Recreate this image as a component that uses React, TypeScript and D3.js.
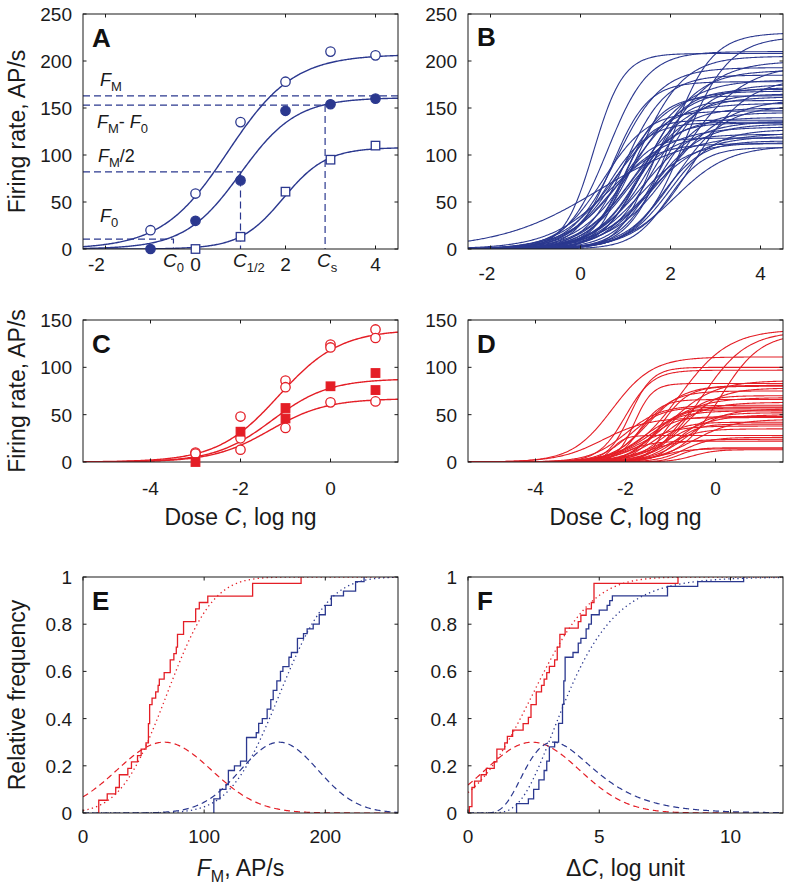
import React from "react";
import * as d3 from "d3";

const BLUE = "#2b388f";
const RED = "#e41e26";
const FONT = "'Liberation Sans', Arial, Helvetica, sans-serif";

// ---------- Panel A : example neuron data + fitted curves ----------
const aDoseCircle = [-1, 0, 1, 2, 3, 4];
const aOpen = [20, 59, 135, 178, 210, 206];
const aFilled = [0, 30, 73, 147, 154, 160];
const aDoseSquare = [0, 1, 2, 3, 4];
const aSquare = [0, 13, 61, 95, 110];
const aFitFmax = [207, 161, 108];
const aFitC50 = [0.72, 1.0, 1.95];
const aFitWidth = [0.73, 0.62, 0.48];
// reference levels: F_M, F_M - F_0, F_M/2, F_0 ; doses: C_0, C_1/2, C_s
const aLevels = [163, 153, 82, 10.6];
const aDoses = [-0.49, 1.0, 2.88];

// ---------- Panel B : fitted curves of the population (blue) ----------
const bFmax = [230, 226, 210, 208, 205, 200, 197, 193, 190, 185, 182, 180, 178, 175, 172, 170, 168, 165, 163, 162, 160, 158, 155, 152, 150, 147, 145, 140, 137, 136, 135, 134, 133, 130, 127, 125, 122, 120, 118, 115, 113, 112, 110, 108];
const bC50 = [2.0, 2.3, 0.6, 0.29, 1.3, 1.7, 2.2, 0.8, 1.5, 1.0, 2.5, 1.2, 0.7, 1.8, 1.1, 1.4, 0.9, 1.6, 1.0, 1.25, 1.9, 1.5, 0.8, 2.1, 1.3, 0.5, 1.7, 1.1, 0.9, 1.4, 0.6, 1.2, 1.6, 0.7, 2.0, 0.4, 1.0, 1.5, 0.8, 1.8, 1.3, 0.6, 2.1, 1.95];
const bWidth = [0.45, 0.5, 0.45, 0.33, 0.5, 0.6, 0.7, 0.5, 0.55, 0.45, 0.6, 0.6, 0.4, 0.5, 0.65, 0.45, 0.55, 0.5, 0.4, 0.6, 0.7, 0.35, 0.6, 0.55, 0.5, 0.5, 0.45, 0.55, 0.3, 0.6, 0.45, 0.4, 0.55, 0.7, 0.5, 1.1, 0.5, 0.6, 0.35, 0.45, 0.55, 0.5, 0.6, 0.4];

// ---------- Panel C : example neuron data (red) ----------
const cOpenDose = [-3, -3, -2, -2, -2, -1, -1, -1, 0, 0, 0, 1, 1, 1];
const cOpen = [10, 9, 48, 25, 13, 86, 79, 36, 124, 121, 63, 140, 131, 64];
const cSquareDose = [-3, -2, -1, -1, 0, 1, 1];
const cSquare = [0, 32, 57, 46, 80, 94, 76];
const cFitFmax = [140, 88, 67];
const cFitC50 = [-1.15, -1.3, -1.35];
const cFitWidth = [0.68, 0.63, 0.63];

// ---------- Panel D : fitted curves of the population (red) ----------
const dFmax = [140, 138, 136, 111, 100, 97, 86, 83, 81, 80, 78, 75, 70, 68, 66, 63, 58, 57, 56, 55, 54, 52, 50, 48, 45, 42, 40, 38, 35, 28, 26, 24, 22, 15, 14, 13, 60, 47];
const dC50 = [-0.8, -0.3, 0.1, -2.3, -1.9, -2.0, -1.0, -1.8, -1.5, -1.2, -0.7, -1.6, -0.9, -1.3, -1.7, -1.1, -1.9, -1.4, -0.6, -1.2, -1.6, -0.8, -1.0, -1.5, -0.5, -1.3, -0.9, -1.7, -1.1, -2.3, -0.7, -1.5, -2.0, -0.8, -1.2, -0.5, -2.0, -2.5];
const dWidth = [0.55, 0.5, 0.45, 0.45, 0.25, 0.3, 0.5, 0.2, 0.4, 0.3, 0.4, 0.35, 0.3, 0.5, 0.25, 0.45, 0.35, 0.3, 0.4, 0.2, 0.4, 0.35, 0.5, 0.3, 0.45, 0.3, 0.25, 0.4, 0.35, 0.15, 0.3, 0.4, 0.3, 0.2, 0.3, 0.25, 0.4, 0.5];

// ---------- Panel E : F_M distributions ----------
const eRed = [13, 13, 20, 27, 30, 30, 37, 40, 45, 48, 52, 54, 54, 54, 55, 55, 55, 57, 60, 62, 63, 67, 72, 72, 75, 77, 78, 78, 83, 83, 93, 93, 96, 103, 140, 140, 180];
const eBlue = [108, 108, 108, 113, 113, 118, 120, 120, 120, 125, 130, 135, 135, 135, 135, 135, 143, 145, 145, 148, 152, 152, 155, 155, 157, 157, 160, 160, 163, 163, 165, 170, 170, 172, 177, 177, 177, 182, 185, 190, 195, 195, 200, 200, 205, 205, 215, 225, 225, 232];
const eGaussMean = [67, 162]; // dashed density curves
const eGaussSd = [39, 32];
const eCdfMean = [69, 162]; // dotted cumulative curves
const eCdfSd = [30, 32];

// ---------- Panel F : ΔC distributions ----------
const fRed = [0.05, 0.15, 0.15, 0.15, 0.25, 0.5, 0.7, 1.0, 1.1, 1.1, 1.4, 1.5, 1.7, 2.1, 2.3, 2.4, 2.4, 2.6, 2.6, 2.8, 2.9, 3.0, 3.1, 3.3, 3.4, 3.4, 3.5, 3.5, 3.7, 4.2, 4.3, 4.5, 4.7, 4.8, 4.8, 4.8, 8.0];
const fBlue = [1.85, 1.85, 2.3, 2.5, 2.5, 2.7, 2.7, 2.9, 2.9, 3.0, 3.0, 3.1, 3.1, 3.1, 3.3, 3.45, 3.45, 3.45, 3.45, 3.6, 3.6, 3.6, 3.6, 3.65, 3.65, 3.65, 3.65, 3.65, 3.7, 3.7, 3.7, 3.7, 3.7, 4.0, 4.2, 4.2, 4.3, 4.5, 4.5, 4.6, 4.7, 4.7, 5.0, 5.3, 5.4, 5.5, 7.6, 7.6, 8.75, 10.5];
const fRedNormal = [2.45, 1.8]; // mean, sd
const fBlueLogNormal = [1.335, 0.4]; // mu, sigma of ln(ΔC)

const PEAK = 0.3;

// ---------- tick values ----------
const abXTicks = [-2, 0, 2, 4];
const abYTicks = [0, 50, 100, 150, 200, 250];
const cdXTicks = [-4, -2, 0];
const cdYTicks = [0, 50, 100, 150];
const eXTicks = [0, 100, 200];
const fXTicks = [0, 5, 10];
const efYTicks = [0, 0.2, 0.4, 0.6, 0.8, 1];

// ---------- helpers ----------
function hill(x: number, fm: number, c: number, w: number) {
  return fm / (1 + Math.exp(-(x - c) / w));
}
function normCdf(z: number) {
  const t = 1 / (1 + (0.3275911 * Math.abs(z)) / Math.SQRT2);
  const e = 1 - ((((1.061405429 * t - 1.453152027) * t + 1.421413741) * t - 0.284496736) * t + 0.254829592) * t * Math.exp((-z * z) / 2);
  return z >= 0 ? (1 + e) / 2 : (1 - e) / 2;
}
function grid(d: number[], n = 300) {
  return d3.range(n + 1).map((i) => d[0] + ((d[1] - d[0]) * i) / n);
}
function ecdf(vals: number[]): [number, number][] {
  const s = [...vals].sort((a, b) => a - b);
  const n = s.length;
  const pts: [number, number][] = [[s[0], 0]];
  s.forEach((v, i) => pts.push([v, (i + 1) / n]));
  return pts;
}

type Geo = { x0: number; x1: number; y0: number; y1: number };
const GA: Geo = { x0: 83, x1: 398, y0: 14, y1: 249 };
const GB: Geo = { x0: 468, x1: 783, y0: 14, y1: 249 };
const GC: Geo = { x0: 83, x1: 398, y0: 320, y1: 462 };
const GD: Geo = { x0: 468, x1: 783, y0: 320, y1: 462 };
const GE: Geo = { x0: 83, x1: 398, y0: 577, y1: 813 };
const GF: Geo = { x0: 468, x1: 783, y0: 577, y1: 813 };

function Frame(props: {
  id: string;
  g: Geo;
  xs: any;
  ys: any;
  xTicks: number[];
  yTicks: number[];
  xLabY: number;
  negShift: number;
  letter: string;
  letterY: number;
  yFmt?: (v: number) => string;
  children?: any;
  overlay?: any;
}) {
  const { id, g, xs, ys, xTicks, yTicks, xLabY, letter, letterY, negShift } = props;
  const yFmt = props.yFmt || ((v: number) => String(v));
  const tl = 3.5;
  return (
    <g>
      <defs>
        <clipPath id={id}>
          <rect x={g.x0} y={g.y0} width={g.x1 - g.x0} height={g.y1 - g.y0} />
        </clipPath>
      </defs>
      <g clipPath={`url(#${id})`}>{props.children}</g>
      <rect x={g.x0} y={g.y0} width={g.x1 - g.x0} height={g.y1 - g.y0} fill="none" stroke="#1a1a1a" strokeWidth={1} />
      {xTicks.map((t) => (
        <g key={"xt" + t}>
          <line x1={xs(t)} x2={xs(t)} y1={g.y1} y2={g.y1 - tl} stroke="#1a1a1a" strokeWidth={1} />
          <line x1={xs(t)} x2={xs(t)} y1={g.y0} y2={g.y0 + tl} stroke="#1a1a1a" strokeWidth={1} />
          <text x={xs(t) + (t < 0 ? negShift : 0)} y={xLabY} textAnchor="middle" fontSize={19} fontFamily={FONT} fill="#1a1a1a">
            {t < 0 ? "-" + Math.abs(t) : String(t)}
          </text>
        </g>
      ))}
      {yTicks.map((t) => (
        <g key={"yt" + t}>
          <line x1={g.x0} x2={g.x0 + tl} y1={ys(t)} y2={ys(t)} stroke="#1a1a1a" strokeWidth={1} />
          <line x1={g.x1} x2={g.x1 - tl} y1={ys(t)} y2={ys(t)} stroke="#1a1a1a" strokeWidth={1} />
          <text x={g.x0 - 11} y={ys(t) + 7} textAnchor="end" fontSize={19} fontFamily={FONT} fill="#1a1a1a">
            {yFmt(t)}
          </text>
        </g>
      ))}
      <text x={g.x0 + 9} y={letterY} fontSize={26} fontWeight="bold" fontFamily={FONT} fill="#111">
        {letter}
      </text>
      {props.overlay}
    </g>
  );
}

function Circle({ x, y, filled, color }: any) {
  return <circle cx={x} cy={y} r={4.7} fill={filled ? color : "white"} stroke={color} strokeWidth={1.3} />;
}
function Square({ x, y, filled, color }: any) {
  const s = 8.5;
  return <rect x={x - s / 2} y={y - s / 2} width={s} height={s} fill={filled ? color : "white"} stroke={color} strokeWidth={1.3} />;
}

export default function App() {
  // scales
  const xA = d3.scaleLinear().domain([-2.5, 4.5]).range([GA.x0, GA.x1]);
  const yA = d3.scaleLinear().domain([0, 250]).range([GA.y1, GA.y0]);
  const xB = d3.scaleLinear().domain([-2.5, 4.5]).range([GB.x0, GB.x1]);
  const yB = d3.scaleLinear().domain([0, 250]).range([GB.y1, GB.y0]);
  const xC = d3.scaleLinear().domain([-5.5, 1.5]).range([GC.x0, GC.x1]);
  const yC = d3.scaleLinear().domain([0, 150]).range([GC.y1, GC.y0]);
  const xD = d3.scaleLinear().domain([-5.5, 1.5]).range([GD.x0, GD.x1]);
  const yD = d3.scaleLinear().domain([0, 150]).range([GD.y1, GD.y0]);
  const xE = d3.scaleLinear().domain([0, 260]).range([GE.x0, GE.x1]);
  const yE = d3.scaleLinear().domain([0, 1]).range([GE.y1, GE.y0]);
  const xF = d3.scaleLinear().domain([0, 12]).range([GF.x0, GF.x1]);
  const yF = d3.scaleLinear().domain([0, 1]).range([GF.y1, GF.y0]);

  const mkLine = (xs: any, ys: any) => d3.line<[number, number]>().x((d) => xs(d[0])).y((d) => ys(d[1]));
  const mkStep = (xs: any, ys: any) =>
    d3.line<[number, number]>().x((d) => xs(d[0])).y((d) => ys(d[1])).curve(d3.curveStepAfter);

  const gAB = grid([-2.6, 4.6]);
  const gCD = grid([-5.6, 1.6]);
  const lineA = mkLine(xA, yA);
  const lineB = mkLine(xB, yB);
  const lineC = mkLine(xC, yC);
  const lineD = mkLine(xD, yD);
  const lineE = mkLine(xE, yE);
  const lineF = mkLine(xF, yF);

  const fitCurve = (gx: number[], fm: number, c: number, w: number): [number, number][] =>
    gx.map((x) => [x, hill(x, fm, c, w)]);

  const dash = "7,4";
  const [FM, FMF0, FM2, F0] = aLevels;
  const [C0, C12, CS] = aDoses;

  // E / F fits
  const gE = grid([0, 260]);
  const gF = grid([0, 12], 400);
  const gauss = (x: number, m: number, s: number) => PEAK * Math.exp(-((x - m) ** 2) / (2 * s * s));
  const [lm, ls] = fBlueLogNormal;
  const lnPdf = (x: number) => (x <= 0 ? 0 : Math.exp(-((Math.log(x) - lm) ** 2) / (2 * ls * ls)) / x);
  const lnMode = Math.exp(lm - ls * ls);
  const lnPdfScaled = (x: number) => (PEAK * lnPdf(x)) / lnPdf(lnMode);
  const lnCdf = (x: number) => (x <= 0 ? 0 : normCdf((Math.log(x) - lm) / ls));

  const sub = (t: string, size = 13) => (
    <tspan fontSize={size} dy={5}>
      {t}
    </tspan>
  );

  return (
    <div style={{ position: "absolute", left: 0, top: 0 }}>
      <svg width={790} height={893} viewBox="0 0 790 893" style={{ display: "block", background: "white" }}>
        <rect x={0} y={0} width={790} height={893} fill="white" />

        {/* ---------- Panel A ---------- */}
        <Frame
          id="clipA"
          g={GA}
          xs={xA}
          ys={yA}
          xTicks={abXTicks}
          yTicks={abYTicks}
          xLabY={271}
          negShift={-9}
          letter="A"
          letterY={47}
          overlay={
            <g>
              {aDoseCircle.map((d, i) => (
                <Circle key={"ao" + i} x={xA(d)} y={yA(aOpen[i])} color={BLUE} />
              ))}
              {aDoseCircle.map((d, i) => (
                <Circle key={"af" + i} x={xA(d)} y={yA(aFilled[i])} color={BLUE} filled />
              ))}
              {aDoseSquare.map((d, i) => (
                <Square key={"as" + i} x={xA(d)} y={yA(aSquare[i])} color={BLUE} />
              ))}
            </g>
          }
        >
          {aFitFmax.map((fm, i) => (
            <path key={"af" + i} d={lineA(fitCurve(gAB, fm, aFitC50[i], aFitWidth[i])) || ""} fill="none" stroke={BLUE} strokeWidth={1.4} />
          ))}
          <g fill="none" stroke={BLUE} strokeWidth={1.2} strokeDasharray={dash}>
            <path d={lineA([[-2.5, FM], [4.5, FM]]) || ""} />
            <path d={lineA([[-2.5, FMF0], [CS, FMF0], [CS, 0]]) || ""} />
            <path d={lineA([[-2.5, FM2], [C12, FM2], [C12, 0]]) || ""} />
            <path d={lineA([[-2.5, F0], [C0, F0], [C0, 0]]) || ""} />
          </g>
        </Frame>
        {/* annotations A */}
        <g fontFamily={FONT} fill="#1a1a1a">
          <text x={100} y={86} fontSize={18}>
            <tspan fontStyle="italic">F</tspan>
            {sub("M")}
          </text>
          <text x={97} y={128} fontSize={18}>
            <tspan fontStyle="italic">F</tspan>
            {sub("M")}
            <tspan dy={-5}>- </tspan>
            <tspan fontStyle="italic">F</tspan>
            {sub("0")}
          </text>
          <text x={98} y={162} fontSize={18}>
            <tspan fontStyle="italic">F</tspan>
            {sub("M")}
            <tspan dy={-5}>/2</tspan>
          </text>
          <text x={100} y={222} fontSize={18}>
            <tspan fontStyle="italic">F</tspan>
            {sub("0")}
          </text>
          <text x={163} y={267} fontSize={19}>
            <tspan fontStyle="italic">C</tspan>
            {sub("0")}
          </text>
          <text x={233} y={267} fontSize={19}>
            <tspan fontStyle="italic">C</tspan>
            {sub("1/2")}
          </text>
          <text x={317} y={267} fontSize={19}>
            <tspan fontStyle="italic">C</tspan>
            {sub("s")}
          </text>
        </g>

        {/* ---------- Panel B ---------- */}
        <Frame id="clipB" g={GB} xs={xB} ys={yB} xTicks={abXTicks} yTicks={abYTicks} xLabY={280} negShift={-3.5} letter="B" letterY={46}>
          {bFmax.map((fm, i) => (
            <path key={"b" + i} d={lineB(fitCurve(gAB, fm, bC50[i], bWidth[i])) || ""} fill="none" stroke={BLUE} strokeWidth={1.1} />
          ))}
        </Frame>

        {/* ---------- Panel C ---------- */}
        <Frame
          id="clipC"
          g={GC}
          xs={xC}
          ys={yC}
          xTicks={cdXTicks}
          yTicks={cdYTicks}
          xLabY={495}
          negShift={0}
          letter="C"
          letterY={353}
          overlay={
            <g>
              {cOpenDose.map((d, i) => (
                <Circle key={"co" + i} x={xC(d)} y={yC(cOpen[i])} color={RED} />
              ))}
              {cSquareDose.map((d, i) => (
                <Square key={"cs" + i} x={xC(d)} y={yC(cSquare[i])} color={RED} filled />
              ))}
            </g>
          }
        >
          {cFitFmax.map((fm, i) => (
            <path key={"cf" + i} d={lineC(fitCurve(gCD, fm, cFitC50[i], cFitWidth[i])) || ""} fill="none" stroke={RED} strokeWidth={1.4} />
          ))}
        </Frame>

        {/* ---------- Panel D ---------- */}
        <Frame id="clipD" g={GD} xs={xD} ys={yD} xTicks={cdXTicks} yTicks={cdYTicks} xLabY={495} negShift={0} letter="D" letterY={353}>
          {dFmax.map((fm, i) => (
            <path key={"d" + i} d={lineD(fitCurve(gCD, fm, dC50[i], dWidth[i])) || ""} fill="none" stroke={RED} strokeWidth={1.1} />
          ))}
        </Frame>

        {/* ---------- Panel E ---------- */}
        <Frame id="clipE" g={GE} xs={xE} ys={yE} xTicks={eXTicks} yTicks={efYTicks} xLabY={843} negShift={0} letter="E" letterY={610}>
          <path d={lineE(gE.map((x) => [x, gauss(x, eGaussMean[0], eGaussSd[0])])) || ""} fill="none" stroke={RED} strokeWidth={1.2} strokeDasharray="6,4" />
          <path d={lineE(gE.map((x) => [x, gauss(x, eGaussMean[1], eGaussSd[1])])) || ""} fill="none" stroke={BLUE} strokeWidth={1.2} strokeDasharray="6,4" />
          <path d={lineE(gE.map((x) => [x, normCdf((x - eCdfMean[0]) / eCdfSd[0])])) || ""} fill="none" stroke={RED} strokeWidth={1.3} strokeDasharray="1.3,3.2" />
          <path d={lineE(gE.map((x) => [x, normCdf((x - eCdfMean[1]) / eCdfSd[1])])) || ""} fill="none" stroke={BLUE} strokeWidth={1.3} strokeDasharray="1.3,3.2" />
          <path d={mkStep(xE, yE)(ecdf(eRed)) || ""} fill="none" stroke={RED} strokeWidth={1.3} />
          <path d={mkStep(xE, yE)(ecdf(eBlue)) || ""} fill="none" stroke={BLUE} strokeWidth={1.3} />
        </Frame>

        {/* ---------- Panel F ---------- */}
        <Frame id="clipF" g={GF} xs={xF} ys={yF} xTicks={fXTicks} yTicks={efYTicks} xLabY={843} negShift={0} letter="F" letterY={610}>
          <path d={lineF(gF.map((x) => [x, gauss(x, fRedNormal[0], fRedNormal[1])])) || ""} fill="none" stroke={RED} strokeWidth={1.2} strokeDasharray="6,4" />
          <path d={lineF(gF.map((x) => [x, lnPdfScaled(x)])) || ""} fill="none" stroke={BLUE} strokeWidth={1.2} strokeDasharray="6,4" />
          <path d={lineF(gF.map((x) => [x, normCdf((x - fRedNormal[0]) / fRedNormal[1])])) || ""} fill="none" stroke={RED} strokeWidth={1.3} strokeDasharray="1.3,3.2" />
          <path d={lineF(gF.map((x) => [x, lnCdf(x)])) || ""} fill="none" stroke={BLUE} strokeWidth={1.3} strokeDasharray="1.3,3.2" />
          <path d={mkStep(xF, yF)(ecdf(fRed)) || ""} fill="none" stroke={RED} strokeWidth={1.3} />
          <path d={mkStep(xF, yF)(ecdf(fBlue)) || ""} fill="none" stroke={BLUE} strokeWidth={1.3} />
        </Frame>

        {/* ---------- axis titles ---------- */}
        <g fontFamily={FONT} fill="#1a1a1a" fontSize={23}>
          <text transform={`translate(25,${(GA.y0 + GA.y1) / 2}) rotate(-90)`} textAnchor="middle">
            Firing rate, AP/s
          </text>
          <text transform={`translate(25,${(GC.y0 + GC.y1) / 2}) rotate(-90)`} textAnchor="middle">
            Firing rate, AP/s
          </text>
          <text transform={`translate(25,${(GE.y0 + GE.y1) / 2}) rotate(-90)`} textAnchor="middle">
            Relative frequency
          </text>
          <text x={(GC.x0 + GC.x1) / 2} y={525} textAnchor="middle">
            Dose <tspan fontStyle="italic">C</tspan>, log ng
          </text>
          <text x={(GD.x0 + GD.x1) / 2} y={525} textAnchor="middle">
            Dose <tspan fontStyle="italic">C</tspan>, log ng
          </text>
          <text x={(GE.x0 + GE.x1) / 2} y={876} textAnchor="middle">
            <tspan fontStyle="italic">F</tspan>
            <tspan fontSize={16} dy={6}>M</tspan>
            <tspan dy={-6}>, AP/s</tspan>
          </text>
          <text x={(GF.x0 + GF.x1) / 2} y={876} textAnchor="middle">
            Δ<tspan fontStyle="italic">C</tspan>, log unit
          </text>
        </g>
      </svg>
    </div>
  );
}
